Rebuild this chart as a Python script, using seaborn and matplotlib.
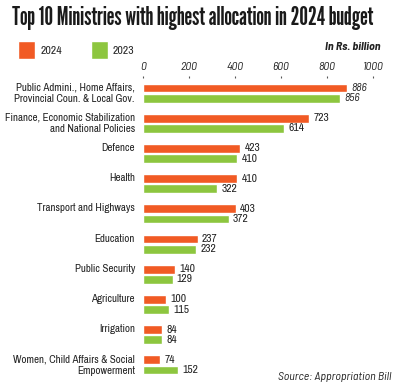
import matplotlib
matplotlib.use("Agg")
import matplotlib.pyplot as plt
import matplotlib.transforms as mtransforms
import pandas as pd
import seaborn as sns

ministries = [
    "Public Admini., Home Affairs,\nProvincial Coun. & Local Gov.",
    "Finance, Economic Stabilization\nand National Policies",
    "Defence",
    "Health",
    "Transport and Highways",
    "Education",
    "Public Security",
    "Agriculture",
    "Irrigation",
    "Women, Child Affairs & Social\nEmpowerment",
]
alloc_2024 = [886, 723, 423, 410, 403, 237, 140, 100, 84, 74]
alloc_2023 = [856, 614, 410, 322, 372, 232, 129, 115, 84, 152]
years = ["2024", "2023"]
x_ticks = [0, 200, 400, 600, 800, 1000]

ORANGE = "#F15A24"
GREEN = "#8DC63F"
NARROW = ["Archivo Narrow", "DejaVu Sans"]
ITALIC = ["Barlow Semi Condensed", "Archivo Narrow", "DejaVu Sans"]
TITLE_FONT = ["League Gothic", "Barlow Condensed", "DejaVu Sans"]

df = pd.DataFrame({
    "ministry": ministries * 2,
    "value": alloc_2024 + alloc_2023,
    "year": [years[0]] * len(ministries) + [years[1]] * len(ministries),
})

sns.set_style("white")
plt.rcParams["font.family"] = NARROW

fig = plt.figure(figsize=(4.0, 3.89), dpi=100)
ax = fig.add_axes([0.3575, 0.0231, 0.575, 0.7764])

sns.barplot(data=df, y="ministry", x="value", hue="year", hue_order=years,
            order=ministries, orient="h", palette=[ORANGE, GREEN],
            width=0.68, gap=0.15, saturation=1, ax=ax)

handles, labels = ax.get_legend_handles_labels()
ax.get_legend().remove()

ax.set_xlim(0, 1000)
ax.set_ylim(len(ministries) - 0.5, -0.5)
ax.set_xticks(x_ticks)
ax.set_xticklabels([str(t) for t in x_ticks], family=ITALIC, fontstyle="italic",
                   fontsize=8.5, color="#222222")
ax.xaxis.tick_top()
ax.tick_params(axis="x", length=1.5, width=0.8, pad=3, color="#555555")
ax.set_yticks([])
ax.set_xlabel("")
ax.set_ylabel("")
for s in ax.spines.values():
    s.set_visible(False)

# category labels: single-line ones sit beside the 2024 bar
trans = mtransforms.blended_transform_factory(ax.transAxes, ax.transData)
for i, name in enumerate(ministries):
    y = i if "\n" in name else i - 0.18
    ax.text(-0.035, y, name, transform=trans, ha="right", va="center",
            fontsize=7.9, color="#222222", linespacing=1.15)

# value labels (the top pair is set in italics)
for cont in ax.containers:
    texts = ax.bar_label(cont, padding=3, fontsize=8.3, color="#222222")
    texts[0].set_family(ITALIC)
    texts[0].set_fontstyle("italic")

fig.text(0.03, 0.935, "Top 10 Ministries with highest allocation in 2024 budget",
         fontsize=17.5, family=TITLE_FONT, color="#1a1a1a", va="baseline")

fig.legend(handles, labels, loc="center left", bbox_to_anchor=(0.045, 0.872), ncol=2,
           frameon=False, fontsize=8.5, handlelength=1.45, handleheight=1.9,
           columnspacing=2.4, handletextpad=0.45, borderpad=0, borderaxespad=0)

fig.text(0.952, 0.878, "In Rs. billion", fontsize=8.5, family=ITALIC, fontweight="bold",
         fontstyle="italic", ha="right", va="center", color="#222222")
fig.text(0.978, 0.03, "Source: Appropriation Bill", fontsize=8.5, family=ITALIC,
         fontstyle="italic", ha="right", va="center", color="#222222")

fig.savefig("out.png", dpi=100)
